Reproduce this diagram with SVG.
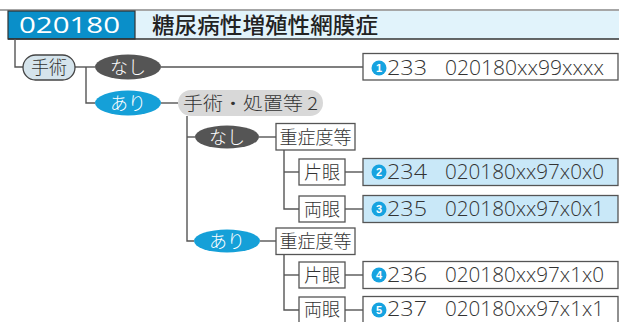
<svg xmlns="http://www.w3.org/2000/svg" width="619" height="322" viewBox="0 0 619 322">
<style>
.ln{fill:none;stroke:#555;stroke-width:1.4}
.j{font-family:"Noto Sans CJK JP",sans-serif;font-weight:300;fill:#333;font-size:18px}
.box{fill:#fff;stroke:#555;stroke-width:1.3}
.res{fill:#fff;stroke:#555;stroke-width:1.3}
.hl{fill:#c9e8f8}
.num{fill:#16a3e0}
.nt{font-family:"Liberation Sans",sans-serif;font-weight:bold;font-size:11px;fill:#fff;text-anchor:middle}
.rt{font-family:"Open Sans","Liberation Sans",sans-serif;font-weight:300;font-size:20px;fill:#333}
.wt{font-family:"Noto Sans CJK JP",sans-serif;font-weight:300;font-size:18px;fill:#fff;text-anchor:middle}
</style>
<rect width="619" height="322" fill="#fff"/>
<g id="header">
<line x1="0" y1="10" x2="619" y2="10" stroke="#888" stroke-width="1.5"/>
<rect x="135" y="11" width="484" height="28" fill="#e1f3fb"/>
<rect x="8" y="11" width="127" height="28" fill="#0a8fc9" stroke="#333" stroke-width="1.2"/>
<line x1="8" y1="39" x2="619" y2="39" stroke="#333" stroke-width="1.5"/>
<text x="19" y="33" font-family="Open Sans,Liberation Sans,sans-serif" font-weight="400" font-size="22" fill="#fff" textLength="101" lengthAdjust="spacingAndGlyphs">020180</text>
<text x="152" y="33" font-family="Noto Sans CJK JP,sans-serif" font-size="21.5" font-weight="500" fill="#222" textLength="226" lengthAdjust="spacingAndGlyphs">糖尿病性増殖性網膜症</text>
</g>
<g id="connectors">
<polyline class="ln" points="15,39 15,67 23,67"/>
<line class="ln" x1="75" y1="67" x2="95" y2="67"/>
<polyline class="ln" points="86,67 86,103 95,103"/>
<line class="ln" x1="161" y1="67" x2="363" y2="67"/>
<line class="ln" x1="161" y1="103" x2="178" y2="103"/>
<polyline class="ln" points="187,116 187,241 194,241"/>
<line class="ln" x1="187" y1="137" x2="195" y2="137"/>
<line class="ln" x1="259" y1="137" x2="276" y2="137"/>
<polyline class="ln" points="284,150 284,209 299,209"/>
<line class="ln" x1="284" y1="172" x2="299" y2="172"/>
<line class="ln" x1="345" y1="172" x2="363" y2="172"/>
<line class="ln" x1="345" y1="209" x2="363" y2="209"/>
<line class="ln" x1="260" y1="241" x2="276" y2="241"/>
<polyline class="ln" points="284,254 284,310 299,310"/>
<line class="ln" x1="284" y1="275" x2="299" y2="275"/>
<line class="ln" x1="345" y1="275" x2="363" y2="275"/>
<line class="ln" x1="345" y1="310" x2="363" y2="310"/>
</g>
<g id="shujutsu">
<rect x="23" y="55" width="52" height="25" rx="12.5" fill="#d5e4ec" stroke="#444" stroke-width="1.3"/>
<text class="j" x="49" y="74" text-anchor="middle">手術</text>
</g>
<g id="nashi1">
<ellipse cx="128" cy="67" rx="33" ry="12.5" fill="#555"/>
<text class="wt" x="128" y="74">なし</text>
</g>
<g id="ari1">
<ellipse cx="128" cy="103" rx="33" ry="12.5" fill="#15a0d8"/>
<text class="wt" x="128" y="110">あり</text>
</g>
<g id="result1">
<rect class="res" x="363" y="53.5" width="255" height="26.5"/>
<circle class="num" cx="379" cy="68" r="7.5"/>
<text class="nt" x="379" y="72">1</text>
<text class="rt" x="387" y="75" textLength="40" lengthAdjust="spacingAndGlyphs">233</text>
<text class="rt" x="445" y="75" textLength="159" lengthAdjust="spacingAndGlyphs">020180xx99xxxx</text>
</g>
<g id="shochi2">
<rect x="178" y="90" width="145" height="26" rx="13" fill="#d8d8d8"/>
<text class="j" x="183" y="110" textLength="135" lengthAdjust="spacingAndGlyphs">手術・処置等 2</text>
</g>
<g id="nashi2">
<ellipse cx="227" cy="137" rx="32" ry="11.5" fill="#555"/>
<text class="wt" x="227" y="144">なし</text>
</g>
<g id="jusho1">
<rect class="box" x="276" y="123.5" width="79" height="26.5"/>
<text class="j" x="315.5" y="144" text-anchor="middle">重症度等</text>
</g>
<g id="katame1">
<rect class="box" x="299" y="159" width="46" height="26"/>
<text class="j" x="322" y="179" text-anchor="middle">片眼</text>
</g>
<g id="ryome1">
<rect class="box" x="299" y="196" width="46" height="26"/>
<text class="j" x="322" y="216" text-anchor="middle">両眼</text>
</g>
<g id="result2">
<rect class="res hl" x="363" y="158.5" width="255" height="27"/>
<circle class="num" cx="379" cy="172" r="7.5"/>
<text class="nt" x="379" y="176">2</text>
<text class="rt" x="387" y="179" textLength="40" lengthAdjust="spacingAndGlyphs">234</text>
<text class="rt" x="445" y="179" textLength="159" lengthAdjust="spacingAndGlyphs">020180xx97x0x0</text>
</g>
<g id="result3">
<rect class="res hl" x="363" y="195.5" width="255" height="27"/>
<circle class="num" cx="379" cy="209" r="7.5"/>
<text class="nt" x="379" y="213">3</text>
<text class="rt" x="387" y="216" textLength="40" lengthAdjust="spacingAndGlyphs">235</text>
<text class="rt" x="445" y="216" textLength="159" lengthAdjust="spacingAndGlyphs">020180xx97x0x1</text>
</g>
<g id="ari2">
<ellipse cx="227" cy="241" rx="33" ry="11.5" fill="#15a0d8"/>
<text class="wt" x="227" y="248">あり</text>
</g>
<g id="jusho2">
<rect class="box" x="276" y="228" width="79" height="26.5"/>
<text class="j" x="315.5" y="248" text-anchor="middle">重症度等</text>
</g>
<g id="katame2">
<rect class="box" x="299" y="262" width="46" height="26"/>
<text class="j" x="322" y="282" text-anchor="middle">片眼</text>
</g>
<g id="ryome2">
<rect class="box" x="299" y="297" width="46" height="27"/>
<text class="j" x="322" y="316" text-anchor="middle">両眼</text>
</g>
<g id="result4">
<rect class="res" x="363" y="261.5" width="255" height="27"/>
<circle class="num" cx="379" cy="275" r="7.5"/>
<text class="nt" x="379" y="279">4</text>
<text class="rt" x="387" y="282" textLength="40" lengthAdjust="spacingAndGlyphs">236</text>
<text class="rt" x="445" y="282" textLength="159" lengthAdjust="spacingAndGlyphs">020180xx97x1x0</text>
</g>
<g id="result5">
<rect class="res" x="363" y="296.5" width="255" height="28"/>
<circle class="num" cx="379" cy="310" r="7.5"/>
<text class="nt" x="379" y="314">5</text>
<text class="rt" x="387" y="316" textLength="40" lengthAdjust="spacingAndGlyphs">237</text>
<text class="rt" x="445" y="316" textLength="159" lengthAdjust="spacingAndGlyphs">020180xx97x1x1</text>
</g>
</svg>
